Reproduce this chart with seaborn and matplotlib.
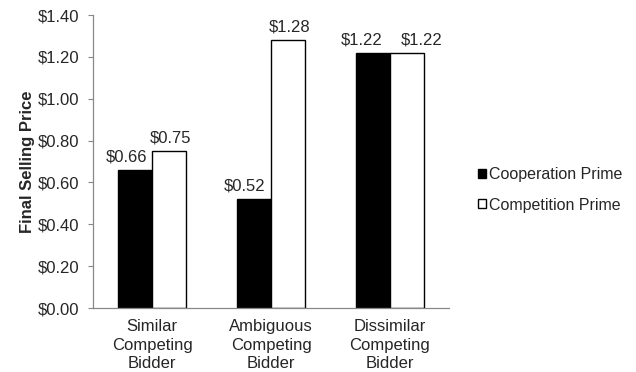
import matplotlib
matplotlib.use("Agg")
import matplotlib.pyplot as plt
import seaborn as sns
import pandas as pd
from matplotlib.patches import Patch

categories = ["Similar\nCompeting\nBidder", "Ambiguous\nCompeting\nBidder", "Dissimilar\nCompeting\nBidder"]
cooperation = [0.66, 0.52, 1.22]
competition = [0.75, 1.28, 1.22]
series = ["Cooperation Prime", "Competition Prime"]
yticks = [0.0, 0.2, 0.4, 0.6, 0.8, 1.0, 1.2, 1.4]

# horizontal nudges (in points) for the value labels, so neighbours do not collide
label_shift = [[-6, -7, -8], [1, 1, 11]]

sns.set_style("white")
plt.rcParams["font.family"] = ["Liberation Sans", "DejaVu Sans"]
FS = 12

df = pd.DataFrame({
    "category": categories * 2,
    "prime": [series[0]] * 3 + [series[1]] * 3,
    "price": cooperation + competition,
})

fig = plt.figure(figsize=(6.36, 3.72), dpi=100)
ax = fig.add_axes([93 / 636, 1 - 308 / 372, (449 - 93) / 636, (308 - 15) / 372])

sns.barplot(data=df, x="category", y="price", hue="prime",
            palette=["black", "white"], width=0.575, ax=ax,
            edgecolor="black", linewidth=1.0, legend=False, errorbar=None)

for s, container in enumerate(ax.containers):
    for i, bar in enumerate(container):
        h = bar.get_height()
        ax.annotate(f"${h:.2f}", xy=(bar.get_x() + bar.get_width() / 2, h),
                    xytext=(label_shift[s][i], 4), textcoords="offset points",
                    ha="center", va="bottom", fontsize=FS)

ax.set_ylim(0, 1.4)
ax.set_yticks(yticks)
ax.set_yticklabels([f"${v:.2f}" for v in yticks], fontsize=FS)
ax.set_xlim(-0.5, 2.5)
ax.tick_params(axis="x", labelsize=FS, length=0, pad=8)
for lbl in ax.get_xticklabels():
    lbl.set_linespacing(1.3)
ax.tick_params(axis="y", length=3.6, width=0.8, color="#888888", left=True, direction="out", pad=6)
ax.set_xlabel("")
ax.set_ylabel("Final Selling Price", fontsize=FS, fontweight="bold", labelpad=2)

for side in ["top", "right"]:
    ax.spines[side].set_visible(False)
for side in ["left", "bottom"]:
    ax.spines[side].set_color("#888888")
    ax.spines[side].set_linewidth(0.9)

handles = [Patch(facecolor="black", edgecolor="black", label=series[0]),
           Patch(facecolor="white", edgecolor="black", label=series[1])]
fig.legend(handles=handles, loc="center left", bbox_to_anchor=(478 / 636, 1 - 190 / 372),
           frameon=False, fontsize=11.5, handlelength=0.5, handleheight=0.5,
           handletextpad=0.2, labelspacing=0.95, borderpad=0, borderaxespad=0)

fig.savefig("out.png", dpi=100)
